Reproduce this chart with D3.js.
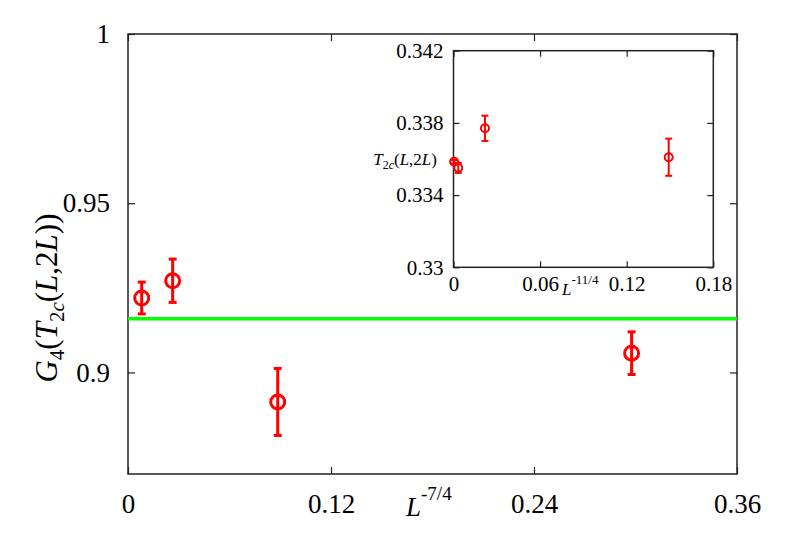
<!DOCTYPE html>
<html>
<head>
<meta charset="utf-8">
<script src="https://cdn.jsdelivr.net/npm/d3@7"></script>
<style>
  body { margin: 0; background: #fff; }
  svg { display: block; font-family: "Liberation Serif", "DejaVu Serif", serif; }
  .axis path.domain { display: none; }
  .axis line { stroke: #222; stroke-width: 1.2; }
</style>
</head>
<body>
<svg width="789" height="552"></svg>
<script>
// main plot: G4 at T2c(L,2L) vs L^-7/4
var mainX = [0.0081, 0.0264, 0.0885, 0.2977];
var mainY = [0.9220, 0.9271, 0.8913, 0.9057];
var mainErr = [0.0047, 0.0064, 0.0099, 0.0063];
var fitLevel = 0.9159;
var mainXTicks = [0, 0.12, 0.24, 0.36];
var mainYTicks = [0.9, 0.95, 1];

// inset: T2c(L,2L) vs L^-11/4
var insetX = [0.0004, 0.0033, 0.0218, 0.1491];
var insetY = [0.33585, 0.33551, 0.3377, 0.3361];
var insetErr = [0.0001, 0.00028, 0.0007, 0.00103];
var insetXTicks = [0, 0.06, 0.12, 0.18];
var insetYTicks = [0.33, 0.334, 0.338, 0.342];

var svg = d3.select("svg");
var red = "#ff0000";

function zip(xs, ys, es) {
  return xs.map((x, i) => ({ x: x, y: ys[i], e: es[i] }));
}

// ---- main frame
var m = { left: 128, right: 737, top: 34, bottom: 474 };
var x = d3.scaleLinear().domain([0, 0.36]).range([m.left, m.right]);
var y = d3.scaleLinear().domain([0.87, 1]).range([m.bottom, m.top]);
var fmt = d => String(d);

svg.append("g").attr("class", "axis")
    .attr("transform", "translate(0," + m.bottom + ")")
    .call(d3.axisBottom(x).tickValues(mainXTicks).tickSize(-7).tickPadding(20).tickFormat(fmt))
    .selectAll("text").attr("font-size", 27).attr("fill", "#000").attr("font-family", "Liberation Serif");
svg.append("g").attr("class", "axis")
    .attr("transform", "translate(0," + m.top + ")")
    .call(d3.axisTop(x).tickValues(mainXTicks).tickSize(-7).tickFormat(""));
svg.append("g").attr("class", "axis")
    .attr("transform", "translate(" + m.left + ",0)")
    .call(d3.axisLeft(y).tickValues(mainYTicks).tickSize(-7).tickPadding(18).tickFormat(fmt))
    .selectAll("text").attr("font-size", 27).attr("fill", "#000").attr("font-family", "Liberation Serif");
svg.append("g").attr("class", "axis")
    .attr("transform", "translate(" + m.right + ",0)")
    .call(d3.axisRight(y).tickValues(mainYTicks).tickSize(-7).tickFormat(""));

svg.append("rect")
    .attr("x", m.left).attr("y", m.top)
    .attr("width", m.right - m.left).attr("height", m.bottom - m.top)
    .attr("fill", "none").attr("stroke", "#222").attr("stroke-width", 1.5);

// horizontal fit line
svg.append("line")
    .attr("x1", x(0)).attr("x2", x(0.36))
    .attr("y1", y(fitLevel)).attr("y2", y(fitLevel))
    .attr("stroke", "#00ff00").attr("stroke-width", 3.5);

function drawPoints(g, data, sx, sy, r, sw, cap) {
  var pt = g.selectAll(".pt").data(data).enter().append("g").attr("class", "pt");
  pt.append("line")
      .attr("x1", d => sx(d.x)).attr("x2", d => sx(d.x))
      .attr("y1", d => sy(d.y - d.e)).attr("y2", d => sy(d.y + d.e))
      .attr("stroke", red).attr("stroke-width", sw);
  pt.append("line")
      .attr("x1", d => sx(d.x) - cap).attr("x2", d => sx(d.x) + cap)
      .attr("y1", d => sy(d.y - d.e)).attr("y2", d => sy(d.y - d.e))
      .attr("stroke", red).attr("stroke-width", sw);
  pt.append("line")
      .attr("x1", d => sx(d.x) - cap).attr("x2", d => sx(d.x) + cap)
      .attr("y1", d => sy(d.y + d.e)).attr("y2", d => sy(d.y + d.e))
      .attr("stroke", red).attr("stroke-width", sw);
  pt.append("circle")
      .attr("cx", d => sx(d.x)).attr("cy", d => sy(d.y)).attr("r", r)
      .attr("fill", "none").attr("stroke", red).attr("stroke-width", sw);
}

drawPoints(svg.append("g"), zip(mainX, mainY, mainErr), x, y, 7, 3, 4);

// axis titles
var xt = svg.append("text").attr("x", 406).attr("y", 516).attr("font-size", 27);
xt.append("tspan").attr("font-style", "italic").text("L");
xt.append("tspan").attr("font-size", 19).attr("dy", -16).text("-7/4");

var yt = svg.append("text")
    .attr("transform", "translate(57,298) rotate(-90)")
    .attr("text-anchor", "middle").attr("font-size", 31);
yt.append("tspan").attr("font-style", "italic").text("G");
yt.append("tspan").attr("font-size", 21).attr("dy", 7).text("4");
yt.append("tspan").attr("dy", -7).text("(");
yt.append("tspan").attr("font-style", "italic").text("T");
yt.append("tspan").attr("font-size", 21).attr("dy", 7).text("2");
yt.append("tspan").attr("font-size", 21).attr("font-style", "italic").text("c");
yt.append("tspan").attr("dy", -7).text("(");
yt.append("tspan").attr("font-style", "italic").text("L");
yt.append("tspan").text(",2");
yt.append("tspan").attr("font-style", "italic").text("L");
yt.append("tspan").text("))");

// ---- inset
var n = { left: 453.5, right: 713.3, top: 50.7, bottom: 267.3 };
var ix = d3.scaleLinear().domain([0, 0.18]).range([n.left, n.right]);
var iy = d3.scaleLinear().domain([0.33, 0.342]).range([n.bottom, n.top]);

svg.append("rect")
    .attr("x", n.left).attr("y", n.top)
    .attr("width", n.right - n.left).attr("height", n.bottom - n.top)
    .attr("fill", "#fff");

svg.append("g").attr("class", "axis")
    .attr("transform", "translate(0," + n.bottom + ")")
    .call(d3.axisBottom(ix).tickValues(insetXTicks).tickSize(-6).tickPadding(9).tickFormat(fmt))
    .selectAll("text").attr("font-size", 21).attr("fill", "#000").attr("font-family", "Liberation Serif");
svg.append("g").attr("class", "axis")
    .attr("transform", "translate(0," + n.top + ")")
    .call(d3.axisTop(ix).tickValues(insetXTicks).tickSize(-6).tickFormat(""));
svg.append("g").attr("class", "axis")
    .attr("transform", "translate(" + n.left + ",0)")
    .call(d3.axisLeft(iy).tickValues(insetYTicks).tickSize(-6).tickPadding(10).tickFormat(fmt))
    .selectAll("text").attr("font-size", 21).attr("fill", "#000").attr("font-family", "Liberation Serif");
svg.append("g").attr("class", "axis")
    .attr("transform", "translate(" + n.right + ",0)")
    .call(d3.axisRight(iy).tickValues(insetYTicks).tickSize(-6).tickFormat(""));

svg.append("rect")
    .attr("x", n.left).attr("y", n.top)
    .attr("width", n.right - n.left).attr("height", n.bottom - n.top)
    .attr("fill", "none").attr("stroke", "#222").attr("stroke-width", 1.5);

drawPoints(svg.append("g"), zip(insetX, insetY, insetErr), ix, iy, 4, 2, 3.5);

var ixt = svg.append("text").attr("x", 562).attr("y", 295).attr("font-size", 17);
ixt.append("tspan").attr("font-style", "italic").text("L");
ixt.append("tspan").attr("font-size", 13).attr("dy", -11).text("-11/4");

var iyt = svg.append("text").attr("x", 437).attr("y", 165)
    .attr("text-anchor", "end").attr("font-size", 17);
iyt.append("tspan").attr("font-style", "italic").text("T");
iyt.append("tspan").attr("font-size", 12).attr("dy", 4).text("2");
iyt.append("tspan").attr("font-size", 12).attr("font-style", "italic").text("c");
iyt.append("tspan").attr("dy", -4).text("(");
iyt.append("tspan").attr("font-style", "italic").text("L");
iyt.append("tspan").text(",2");
iyt.append("tspan").attr("font-style", "italic").text("L");
iyt.append("tspan").text(")");
</script>
</body>
</html>
